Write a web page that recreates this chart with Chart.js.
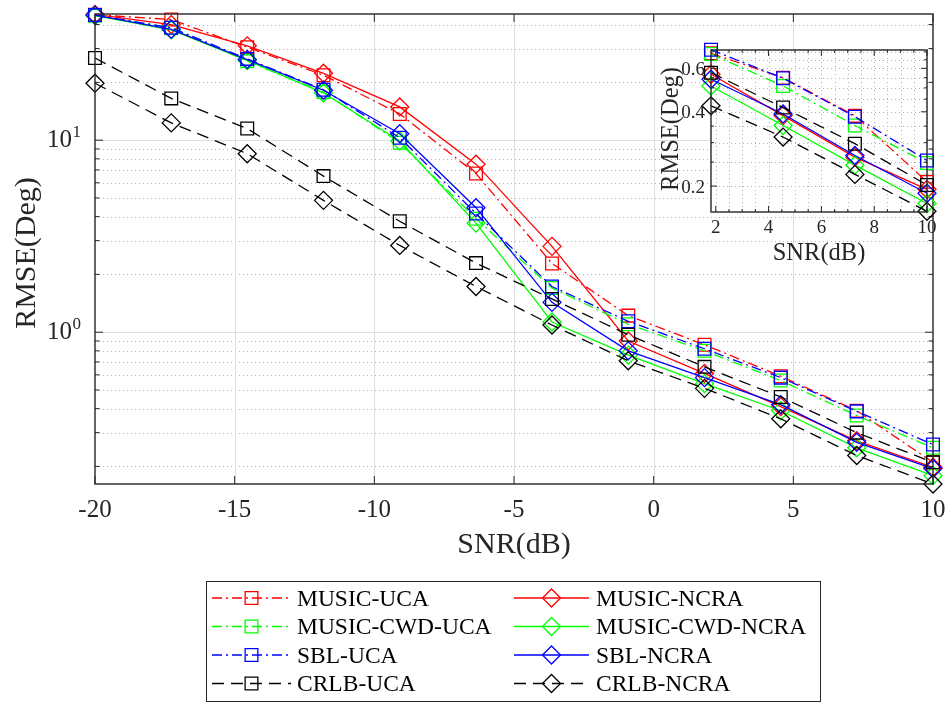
<!DOCTYPE html>
<html>
<head>
<meta charset="utf-8">
<script src="https://cdn.jsdelivr.net/npm/chart.js@4.4.0/dist/chart.umd.min.js"></script>
<style>
    html, body { margin: 0; padding: 0; background: #fff; }
    #wrap { position: relative; width: 950px; height: 703px; }
    #main { position: absolute; left: 0; top: 0; }
    #inset { position: absolute; left: 640px; top: 30px; }
</style>
</head>
<body>
<div id="wrap">
    <canvas id="main" width="950" height="703"></canvas>
    <canvas id="inset" width="300" height="250"></canvas>
</div>
<script>
// SNR points (dB) and RMSE (deg)
const snr = [-20, -17.27, -14.55, -11.82, -9.09, -6.36, -3.64, -0.91, 1.82, 4.55, 7.27, 10];

const musicUca = [45.0, 42.5, 30.5, 21.8, 13.7, 6.7, 2.28, 1.22, 0.86, 0.59, 0.39, 0.21];
const musicNcra = [45.2, 40.0, 31.0, 22.3, 14.9, 7.5, 2.8, 0.9, 0.61, 0.41, 0.272, 0.198];
const cwdUca = [44.5, 38.5, 25.8, 17.8, 9.7, 3.9, 1.7, 1.1, 0.8, 0.56, 0.368, 0.25];
const cwdNcra = [44.5, 37.5, 26.0, 17.6, 9.9, 3.7, 1.13, 0.76, 0.54, 0.39, 0.25, 0.179];
const sblUca = [44.8, 38.5, 26.5, 18.3, 10.3, 4.15, 1.73, 1.14, 0.82, 0.58, 0.387, 0.26];
const sblNcra = [44.8, 37.8, 26.3, 18.2, 10.8, 4.45, 1.43, 0.8, 0.58, 0.42, 0.267, 0.195];
const crlbUca = [26.8, 16.5, 11.5, 6.5, 3.78, 2.29, 1.49, 0.97, 0.66, 0.46, 0.3, 0.21];
const crlbNcra = [19.8, 12.3, 8.5, 4.86, 2.83, 1.73, 1.09, 0.71, 0.51, 0.354, 0.228, 0.162];

// zoomed inset (high SNR part)
const insetSnr = [1.82, 4.55, 7.27, 10];

const insetMusicUca = [0.69, 0.55, 0.385, 0.208];
const insetMusicNcra = [0.568, 0.386, 0.262, 0.194];
const insetCwdUca = [0.686, 0.509, 0.352, 0.248];
const insetCwdNcra = [0.509, 0.352, 0.243, 0.17];
const insetSblUca = [0.714, 0.547, 0.382, 0.254];
const insetSblNcra = [0.542, 0.392, 0.266, 0.187];
const insetCrlbUca = [0.576, 0.416, 0.297, 0.202];
const insetCrlbNcra = [0.423, 0.316, 0.223, 0.158];

// tick values
const xTicks = [-20, -15, -10, -5, 0, 5, 10];
const yMajorTicks = [1, 10];
const yMinorTicks = [0.2, 0.3, 0.4, 0.5, 0.6, 0.7, 0.8, 0.9, 2, 3, 4, 5, 6, 7, 8, 9, 20, 30, 40];
const insetXTicks = [2, 4, 6, 8, 10];
const insetXMinor = [2.5, 3, 3.5, 4.5, 5, 5.5, 6.5, 7, 7.5, 8.5, 9, 9.5];
const insetYTicks = [0.2, 0.4, 0.6];
const insetYMinor = [0.25, 0.3, 0.35, 0.45, 0.5, 0.55, 0.65, 0.7];

const DASH_DOT = [10, 4, 2, 4];
const DASHED = [12, 7];
const FONT = '"Liberation Serif", "DejaVu Serif", serif';
const AXIS_COLOR = "#262626";

const series = [
    { label: "MUSIC-UCA", main: musicUca, inset: insetMusicUca, color: "#ff0000", dash: DASH_DOT, marker: "rect" },
    { label: "MUSIC-NCRA", main: musicNcra, inset: insetMusicNcra, color: "#ff0000", dash: [], marker: "rectRot" },
    { label: "MUSIC-CWD-UCA", main: cwdUca, inset: insetCwdUca, color: "#00ff00", dash: DASH_DOT, marker: "rect" },
    { label: "MUSIC-CWD-NCRA", main: cwdNcra, inset: insetCwdNcra, color: "#00ff00", dash: [], marker: "rectRot" },
    { label: "SBL-UCA", main: sblUca, inset: insetSblUca, color: "#0000ff", dash: DASH_DOT, marker: "rect" },
    { label: "SBL-NCRA", main: sblNcra, inset: insetSblNcra, color: "#0000ff", dash: [], marker: "rectRot" },
    { label: "CRLB-UCA", main: crlbUca, inset: insetCrlbUca, color: "#000000", dash: DASHED, marker: "rect" },
    { label: "CRLB-NCRA", main: crlbNcra, inset: insetCrlbNcra, color: "#000000", dash: DASHED, marker: "rectRot" },
];

const font = (size) => `${size}px ${FONT}`;

function buildDatasets(xs, key) {
    return series.map((s, i) => ({
        label: s.label,
        data: xs.map((x, j) => ({ x, y: s[key][j] })),
        borderColor: s.color,
        borderDash: s.dash,
        borderWidth: 1.3,
        pointStyle: s.marker,
        pointRadius: 9,
        pointBorderWidth: 1.3,
        pointBorderColor: s.color,
        pointBackgroundColor: "rgba(0,0,0,0)",
        tension: 0,
        clip: false,
        // later series on top, like the original plot order
        order: series.length - i,
    }));
}

function line(ctx, x1, y1, x2, y2) {
    ctx.moveTo(x1, y1);
    ctx.lineTo(x2, y2);
}

function drawMarker(ctx, style, x, y, r) {
    ctx.beginPath();
    if (style === "rect") {
        const h = r * Math.SQRT1_2;
        ctx.rect(x - h, y - h, 2 * h, 2 * h);
    } else {
        ctx.moveTo(x - r, y);
        ctx.lineTo(x, y - r);
        ctx.lineTo(x + r, y);
        ctx.lineTo(x, y + r);
        ctx.closePath();
    }
    ctx.stroke();
}

function drawGrid(ctx, a, xScale, yScale, xs, ys, dotted) {
    ctx.beginPath();
    for (const v of xs) {
        const px = Math.round(xScale.getPixelForValue(v)) + 0.5;
        line(ctx, px, a.top, px, a.bottom);
    }
    for (const v of ys) {
        const py = Math.round(yScale.getPixelForValue(v)) + 0.5;
        line(ctx, a.left, py, a.right, py);
    }
    ctx.setLineDash(dotted ? [1, 3] : []);
    ctx.stroke();
    ctx.setLineDash([]);
}

function drawTicks(ctx, a, xScale, yScale, xs, ys, len) {
    ctx.beginPath();
    for (const v of xs) {
        const px = xScale.getPixelForValue(v);
        line(ctx, px, a.bottom, px, a.bottom - len);
        line(ctx, px, a.top, px, a.top + len);
    }
    for (const v of ys) {
        const py = yScale.getPixelForValue(v);
        line(ctx, a.left, py, a.left + len, py);
        line(ctx, a.right, py, a.right - len, py);
    }
    ctx.stroke();
}

const mainAxesPlugin = {
    id: "mainAxes",
    beforeDatasetsDraw(chart) {
        const { ctx, chartArea: a, scales: { x, y } } = chart;
        ctx.save();
        ctx.lineWidth = 1;
        ctx.strokeStyle = "#b4b4b4";
        drawGrid(ctx, a, x, y, [], yMinorTicks, true);
        ctx.strokeStyle = "#dedede";
        drawGrid(ctx, a, x, y, xTicks.slice(1, -1), yMajorTicks, false);
        ctx.restore();
    },
    afterDatasetsDraw(chart) {
        const { ctx, chartArea: a, scales: { x, y } } = chart;
        ctx.save();
        ctx.strokeStyle = AXIS_COLOR;
        ctx.lineWidth = 1.4;
        ctx.strokeRect(a.left, a.top, a.right - a.left, a.bottom - a.top);

        ctx.lineWidth = 1;
        drawTicks(ctx, a, x, y, xTicks, yMajorTicks, 8);
        drawTicks(ctx, a, x, y, [], yMinorTicks, 4.5);

        ctx.fillStyle = AXIS_COLOR;
        ctx.font = font(25);
        ctx.textAlign = "center";
        for (const v of xTicks) {
            ctx.fillText(String(v), x.getPixelForValue(v), 516.5);
        }
        for (const v of yMajorTicks) {
            const py = y.getPixelForValue(v);
            ctx.font = font(25);
            ctx.textAlign = "right";
            ctx.fillText("10", 72, py + 7);
            ctx.font = font(17);
            ctx.textAlign = "left";
            ctx.fillText(String(Math.round(Math.log10(v))), 72.5, py - 3);
        }

        ctx.font = font(30);
        ctx.textAlign = "center";
        ctx.fillText("SNR(dB)", (a.left + a.right) / 2, 553);
        ctx.translate(35, 253);
        ctx.rotate(-Math.PI / 2);
        ctx.fillText("RMSE(Deg)", 0, 0);
        ctx.restore();
    },
    afterDraw(chart) {
        const { ctx } = chart;
        const box = { left: 206, top: 581, right: 820, bottom: 701 };
        const columns = [
            { from: 212, to: 291, marker: 251.5, text: 297 },
            { from: 514, to: 589, marker: 551.5, text: 596 },
        ];
        ctx.save();
        ctx.fillStyle = "#fff";
        ctx.fillRect(box.left, box.top, box.right - box.left, box.bottom - box.top);
        ctx.strokeStyle = AXIS_COLOR;
        ctx.lineWidth = 1;
        ctx.strokeRect(box.left + 0.5, box.top + 0.5, box.right - box.left, box.bottom - box.top);

        ctx.font = font(23.5);
        ctx.textAlign = "left";
        series.forEach((s, i) => {
            const col = columns[i % 2];
            const cy = 598 + Math.floor(i / 2) * 28.5;
            ctx.strokeStyle = s.color;
            ctx.lineWidth = 1.3;
            ctx.setLineDash(s.dash);
            ctx.beginPath();
            line(ctx, col.from, cy, col.to, cy);
            ctx.stroke();
            ctx.setLineDash([]);
            drawMarker(ctx, s.marker, col.marker, cy, 9);
            ctx.fillStyle = "#000";
            ctx.fillText(s.label, col.text, cy + 7.5);
        });
        ctx.restore();
    },
};

const insetAxesPlugin = {
    id: "insetAxes",
    beforeDatasetsDraw(chart) {
        const { ctx, chartArea: a, scales: { x, y } } = chart;
        ctx.save();
        ctx.fillStyle = "#fff";
        ctx.fillRect(a.left, a.top, a.right - a.left, a.bottom - a.top);
        ctx.lineWidth = 1;
        ctx.strokeStyle = "#b4b4b4";
        drawGrid(ctx, a, x, y, insetXTicks.concat(insetXMinor), insetYTicks.concat(insetYMinor), true);
        ctx.restore();
    },
    afterDatasetsDraw(chart) {
        const { ctx, chartArea: a, scales: { x, y } } = chart;
        ctx.save();
        ctx.strokeStyle = AXIS_COLOR;
        ctx.lineWidth = 1.4;
        ctx.strokeRect(a.left, a.top, a.right - a.left, a.bottom - a.top);
        ctx.lineWidth = 1;
        drawTicks(ctx, a, x, y, insetXTicks, insetYTicks, 6);
        drawTicks(ctx, a, x, y, insetXMinor, insetYMinor, 3);

        ctx.fillStyle = AXIS_COLOR;
        ctx.font = font(19);
        ctx.textAlign = "center";
        for (const v of insetXTicks) {
            ctx.fillText(String(v), x.getPixelForValue(v), 203);
        }
        ctx.textAlign = "right";
        for (const v of insetYTicks) {
            ctx.fillText(String(v), 65, y.getPixelForValue(v) + 6.5);
        }

        ctx.font = font(24.5);
        ctx.textAlign = "center";
        ctx.fillText("SNR(dB)", (a.left + a.right) / 2, 230);
        ctx.translate(38, 99);
        ctx.rotate(-Math.PI / 2);
        ctx.fillText("RMSE(Deg)", 0, 0);
        ctx.restore();
    },
};

const baseOptions = (padding, xRange, yRange) => ({
    responsive: false,
    animation: false,
    events: [],
    layout: { padding },
    plugins: { legend: { display: false }, tooltip: { enabled: false } },
    scales: {
        x: { type: "linear", min: xRange[0], max: xRange[1], display: false },
        y: { type: "logarithmic", min: yRange[0], max: yRange[1], display: false },
    },
});

new Chart(document.getElementById("main"), {
    type: "line",
    data: { datasets: buildDatasets(snr, "main") },
    options: baseOptions({ left: 95, top: 14, right: 17, bottom: 219 }, [-20, 10], [0.162, 45.4]),
    plugins: [mainAxesPlugin],
});

new Chart(document.getElementById("inset"), {
    type: "line",
    data: { datasets: buildDatasets(insetSnr, "inset") },
    options: baseOptions({ left: 71, top: 20, right: 13, bottom: 68 }, [1.82, 10], [0.157, 0.712]),
    plugins: [insetAxesPlugin],
});
</script>
</body>
</html>
